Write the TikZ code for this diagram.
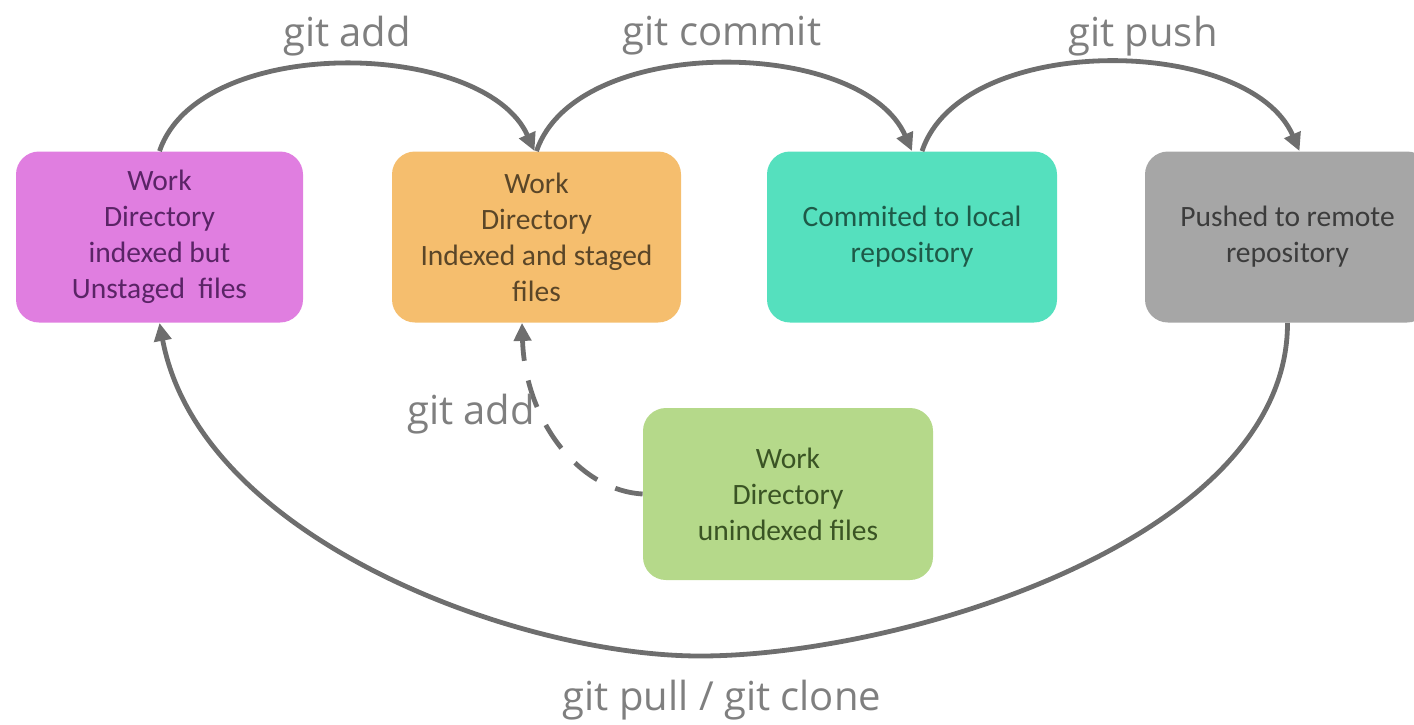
\documentclass[tikz,border=0pt]{standalone}
\usepackage{fontspec}
\setmainfont{Carlito}
\newfontfamily\labelfont{Open Sans}
\usetikzlibrary{arrows.meta}
\definecolor{pinkbox}{HTML}{E07EE0}
\definecolor{pinktext}{HTML}{5A2466}
\definecolor{orangebox}{HTML}{F5BE6E}
\definecolor{orangetext}{HTML}{5A4628}
\definecolor{tealbox}{HTML}{55E0BE}
\definecolor{tealtext}{HTML}{1E5A48}
\definecolor{graybox}{HTML}{A6A6A6}
\definecolor{graytext}{HTML}{3C3C3C}
\definecolor{greenbox}{HTML}{B5D98A}
\definecolor{greentext}{HTML}{3A5424}
\definecolor{linegray}{HTML}{6E6E6E}
\definecolor{labelgray}{HTML}{7F7F7F}
\begin{document}
\begin{tikzpicture}[x=0.5pt,y=-0.5pt,
  box/.style={rounded corners=11.5pt, minimum height=85.5pt, align=center,
    font=\fontsize{14.75}{18}\selectfont, inner sep=0pt},
  lbl/.style={font=\labelfont\fontsize{20}{24}\selectfont, text=labelgray, inner sep=0pt},
  arr/.style={draw=linegray, line width=2.4pt, -{Triangle[length=9pt,width=8.5pt]}},
  dashline/.style={dash pattern=on 14pt off 10pt}]
\useasboundingbox (0,0) rectangle (1414,724);
\clip (0,0) rectangle (1414,724);
\node[box, fill=pinkbox, text=pinktext, minimum width=143.5pt] (pink) at (159.5,237)
  {Work\\Directory\\indexed but\\Unstaged\ \ files};
\node[box, fill=orangebox, text=orangetext, minimum width=144.5pt] (orange) at (536.5,237)
  {Work\\Directory\\Indexed and staged\\files};
\node[box, fill=tealbox, text=tealtext, minimum width=145pt] (teal) at (912,237)
  {Commited to local\\repository};
\node[box, fill=graybox, text=graytext, minimum width=142.5pt] (gray) at (1287.5,237)
  {Pushed to remote\\repository};
\node[box, fill=greenbox, text=greentext, minimum width=145pt, minimum height=86pt] (green) at (788,494)
  {Work\\Directory\\unindexed files};

\draw[arr] (pink.north) .. controls +(40,-118) and +(-50,-112) .. ([xshift=-1pt]orange.north);
\draw[arr] (orange.north) .. controls +(40,-118) and +(-50,-114) .. (teal.north);
\draw[arr] ([xshift=5pt]teal.north) .. controls +(40,-120) and +(-50,-116) .. ([xshift=6pt]gray.north);
\draw[arr] (gray.south) .. controls (1288,540) and (900,656) .. (700,656)
  .. controls (520,656) and (200,540) .. (pink.south);
\draw[arr, dashline] (green.west) .. controls (578,490) and (525,420) .. ([xshift=-7.25pt]orange.south);

\node[lbl] (l1) at (347,36) {git add};
\node[lbl] (l2) at (722,36) {git commit};
\node[lbl] (l3) at (1143,36) {git push};
\node[lbl] (l4) at (471,414) {git add};
\node[lbl] (l5) at (722,700) {git pull / git clone};
\end{tikzpicture}
\end{document}
